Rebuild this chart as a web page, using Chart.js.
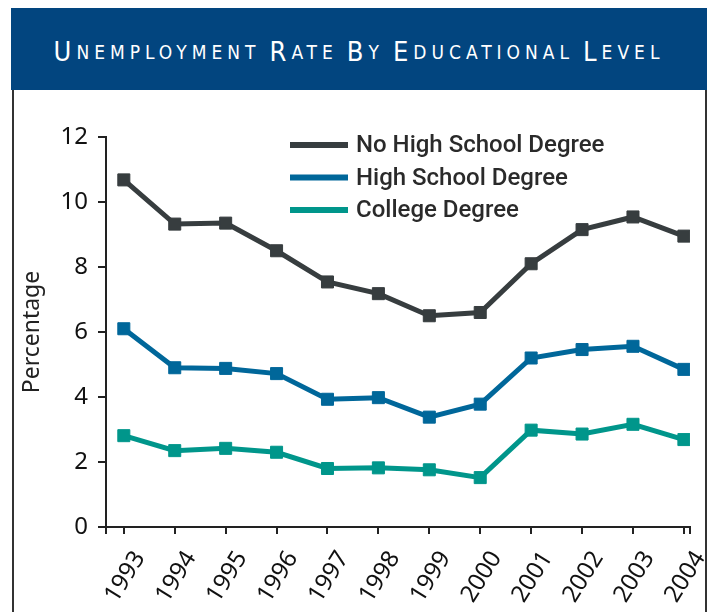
<!DOCTYPE html>
<html>
<head>
<meta charset="utf-8">
<script src="https://cdn.jsdelivr.net/npm/chart.js@4.4.1/dist/chart.umd.min.js"></script>
<style>
  html, body { margin: 0; padding: 0; background: #fff; }
  #wrap { position: relative; width: 709px; height: 612px; overflow: hidden; }
  #head {
    position: absolute; left: 11px; top: 8px; width: 696px; height: 82px;
    background: #02457f; color: #fff;
    display: flex; align-items: center; justify-content: center;
    font-family: "DejaVu Sans Condensed", "Liberation Sans Narrow", sans-serif;
    letter-spacing: 5px; font-size: 19px; padding-top: 5px; box-sizing: border-box;
  }
  #head .big { font-size: 27px; }
  #head .gap { display: inline-block; width: 9px; }
  .edge { position: absolute; top: 90px; bottom: 0; width: 1.5px; background: #333; }
  canvas { position: absolute; left: 0; top: 0; }
</style>
</head>
<body>
<div id="wrap">
  <div id="head"><span class="big">U</span>NEMPLOYMENT<span class="gap"></span><span class="big">R</span>ATE<span class="gap"></span><span class="big">B</span>Y<span class="gap"></span><span class="big">E</span>DUCATIONAL<span class="gap"></span><span class="big">L</span>EVEL</div>
  <div class="edge" style="left:12px"></div>
  <div class="edge" style="left:705px"></div>
  <canvas id="chart" width="709" height="612"></canvas>
</div>
<script>
const years = [1993, 1994, 1995, 1996, 1997, 1998, 1999, 2000, 2001, 2002, 2003, 2004];
const noHighSchool = [10.68, 9.32, 9.35, 8.5, 7.54, 7.18, 6.5, 6.6, 8.1, 9.15, 9.54, 8.95];
const highSchool = [6.1, 4.9, 4.88, 4.72, 3.93, 3.98, 3.38, 3.78, 5.2, 5.46, 5.56, 4.85];
const college = [2.81, 2.35, 2.42, 2.3, 1.8, 1.82, 1.76, 1.52, 2.98, 2.86, 3.16, 2.69];
const seriesNames = ['No High School Degree', 'High School Degree', 'College Degree'];
const yTicks = [0, 2, 4, 6, 8, 10, 12];

const colors = ['#373d3f', '#00679a', '#00968b'];

function series(i, values) {
    return {
        label: seriesNames[i],
        data: years.map((y, k) => ({ x: y, y: values[k] })),
        borderColor: colors[i],
        backgroundColor: colors[i],
        borderWidth: 5,
        pointStyle: 'rect',
        pointRadius: 8.5,
        pointBorderWidth: 1,
        tension: 0
    };
}

// leyenda dentro del area del grafico
const insideLegend = {
    id: 'insideLegend',
    afterDraw(chart) {
        const ctx = chart.ctx;
        const area = chart.chartArea;
        const x0 = area.left + 184;
        const y0 = area.top + 8;
        ctx.save();
        ctx.font = '500 24px Roboto, sans-serif';
        ctx.textBaseline = 'middle';
        chart.data.datasets.forEach((ds, i) => {
            const y = y0 + i * 32.5;
            ctx.fillStyle = ds.borderColor;
            ctx.fillRect(x0, y - 3, 58, 6);
            ctx.fillStyle = '#2a2a2a';
            ctx.fillText(ds.label, x0 + 66, y + 1);
        });
        ctx.restore();
    }
};

const ctx = document.getElementById('chart').getContext('2d');
new Chart(ctx, {
    type: 'line',
    data: {
        datasets: [series(0, noHighSchool), series(1, highSchool), series(2, college)]
    },
    options: {
        responsive: false,
        animation: false,
        layout: { padding: { left: 14, right: 19, top: 137, bottom: 0 } },
        plugins: { legend: { display: false }, tooltip: { enabled: false } },
        scales: {
            x: {
                type: 'linear',
                min: 1992.65,
                max: 2004.12,
                afterBuildTicks: s => { s.ticks = [s.min].concat(years, [s.max]).map(v => ({ value: v })); },
                afterFit: s => { s.height = 85; s.paddingLeft = 0; s.paddingRight = 0; },
                border: { color: '#222', width: 2 },
                grid: { drawOnChartArea: false, color: '#222', lineWidth: 2, tickLength: 7 },
                ticks: {
                    autoSkip: false,
                    minRotation: 58,
                    maxRotation: 58,
                    padding: 12,
                    labelOffset: 16,
                    color: '#111',
                    font: { family: '"Noto Sans", sans-serif', size: 24 },
                    callback: v => Number.isInteger(v) ? String(v) : ''
                }
            },
            y: {
                min: 0,
                max: 12,
                afterBuildTicks: s => { s.ticks = yTicks.map(v => ({ value: v })); },
                afterFit: s => { s.width = 92; },
                border: { color: '#222', width: 2 },
                grid: { drawOnChartArea: false, color: '#222', lineWidth: 2, tickLength: 8 },
                ticks: {
                    padding: 10,
                    color: '#111',
                    font: { family: '"Noto Sans", sans-serif', size: 24 }
                },
                title: {
                    display: true,
                    text: 'Percentage',
                    color: '#222',
                    padding: { top: 5, bottom: 0 },
                    font: { family: '"Noto Sans", sans-serif', size: 23 }
                }
            }
        }
    },
    plugins: [insideLegend]
});
</script>
</body>
</html>
